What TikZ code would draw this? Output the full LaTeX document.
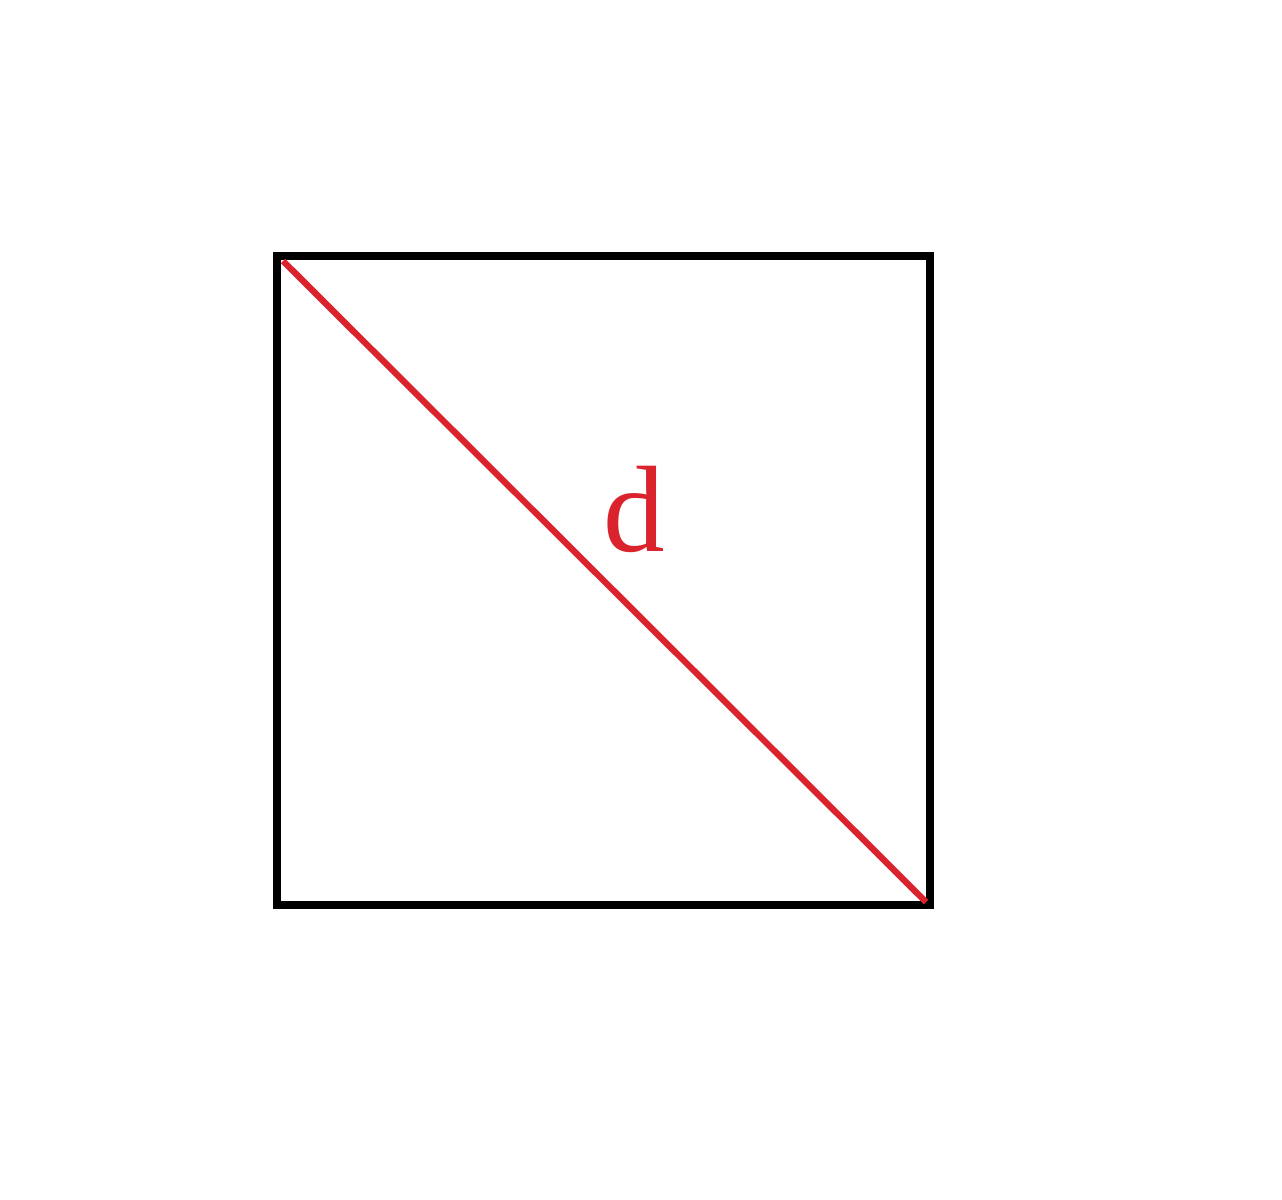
\documentclass[tikz,border=0pt]{standalone}
\usepackage{fontspec}
\setmainfont{Liberation Serif}
\definecolor{diagred}{RGB}{218,35,45}
\tikzset{
  sqside/.style={line width=4.5pt, draw=black, line cap=rect},
  diag/.style={line width=3.6pt, draw=diagred},
  lbl/.style={text=diagred, font=\fontsize{70}{80}\selectfont, inner sep=0pt}
}
\begin{document}
\begin{tikzpicture}[x=0.02cm,y=-0.02cm]
\useasboundingbox (0,0) rectangle (1282,1200);
\coordinate (tl) at (277,256);
\coordinate (tr) at (930,256);
\coordinate (br) at (930,905);
\coordinate (bl) at (277,905);
\draw[sqside] (tl) -- (tr) -- (br) -- (bl) -- cycle;
\coordinate (dstart) at (283,261);
\coordinate (dend) at (926,902);
\draw[diag] (dstart) -- (dend);
\node[lbl] (d) at (634,509) {d};
\end{tikzpicture}
\end{document}
